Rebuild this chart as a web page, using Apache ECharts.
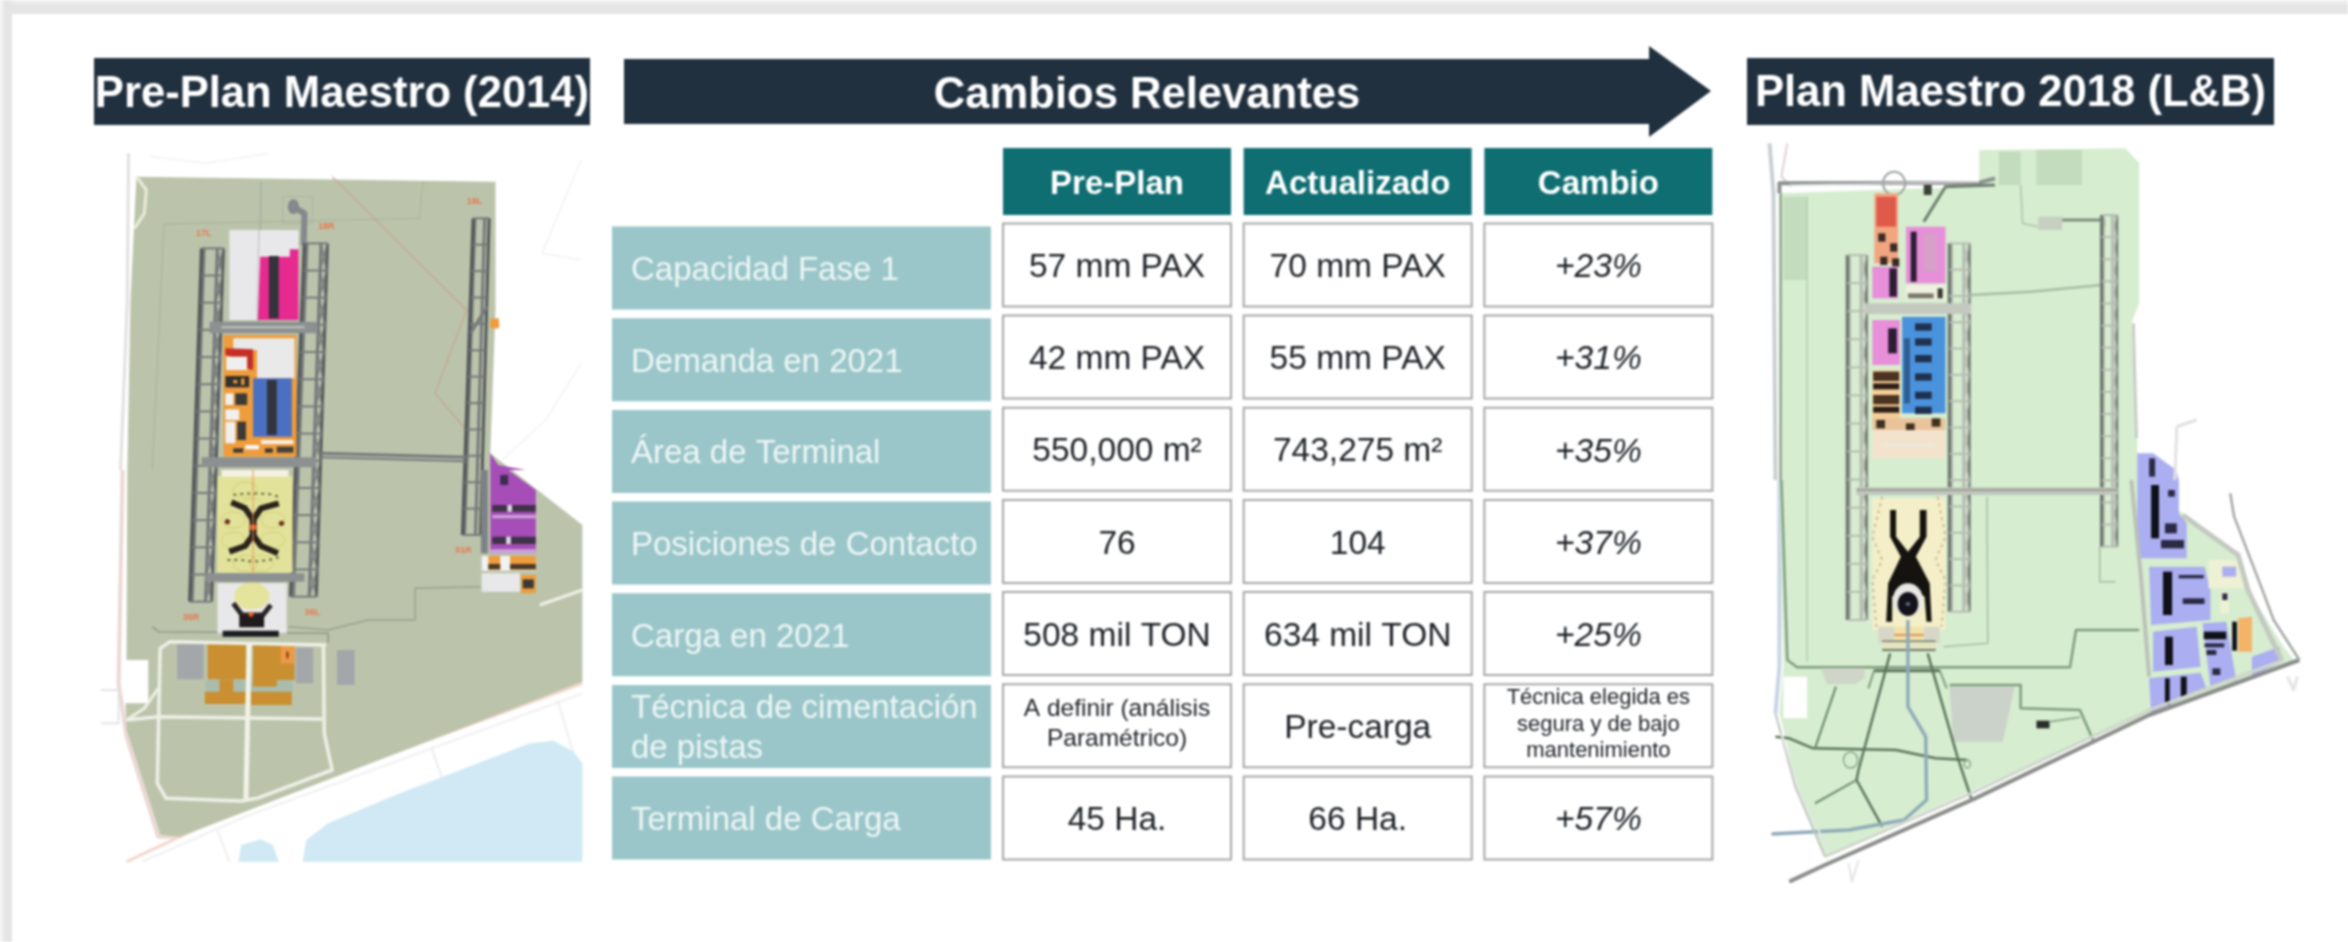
<!DOCTYPE html>
<html><head><meta charset="utf-8">
<style>html,body{margin:0;padding:0;background:#fff}#c{width:2348px;height:942px;filter:blur(0.85px)}</style>
<script src="https://cdn.jsdelivr.net/npm/echarts@6/dist/echarts.min.js"></script>
</head><body><div id="c"></div>
<script>
// ---- table content ----
const columnHeaders = ['Pre-Plan', 'Actualizado', 'Cambio'];
const rowLabels = ['Capacidad Fase 1', 'Demanda en 2021', 'Área de Terminal', 'Posiciones de Contacto', 'Carga en 2021', 'Técnica de cimentación\nde pistas', 'Terminal de Carga'];
const prePlan = ['57 mm PAX', '42 mm PAX', '550,000 m²', '76', '508 mil TON', 'A definir (análisis\nParamétrico)', '45 Ha.'];
const actualizado = ['70 mm PAX', '55 mm PAX', '743,275 m²', '104', '634 mil TON', 'Pre-carga', '66 Ha.'];
const cambio = ['+23%', '+31%', '+35%', '+37%', '+25%', 'Técnica elegida es\nsegura y de bajo\nmantenimiento', '+57%'];
const panelTitles = ['Pre-Plan Maestro (2014)', 'Cambios Relevantes', 'Plan Maestro 2018 (L&B)'];
const runwayTags = ['17L', '18R', '19L', '35R', '36L', '01R'];

const FONT = '"Liberation Sans", Arial, sans-serif';
const NAVY = '#20303e';
const valueRows = [prePlan, actualizado, cambio];
const rowIdx = rowLabels.map((_, i) => i);
const colIdx = columnHeaders.map((_, i) => i);

// ---- base-map artwork helpers (coordinates are picture positions of the two site plans) ----
const Z = {a:[0,0],b:[0,470],c:[1730,30],d:[1730,480]};
const P = (k,pts)=>pts.map(p=>[Z[k][0]+p[0]/2.529, Z[k][1]+p[1]/3]);
const g = [];
const poly=(k,pts,fill,z)=>g.push({type:'polygon',silent:true,shape:{points:P(k,pts)},style:{fill}});
const box=(k,x0,y0,x1,y1,fill)=>poly(k,[[x0,y0],[x1,y0],[x1,y1],[x0,y1]],fill);
const line=(k,pts,stroke,w,dash)=>g.push({type:'polyline',silent:true,shape:{points:P(k,pts)},style:{stroke,lineWidth:w,fill:null,lineDash:dash||null,lineJoin:'round'}});
const oval=(k,cx,cy,rx,ry,fill,stroke,w)=>{const c=P(k,[[cx,cy]])[0];g.push({type:'ellipse',silent:true,shape:{cx:c[0],cy:c[1],rx:rx/2.529,ry:ry/3},style:{fill,stroke:stroke||null,lineWidth:w||0}});};
function ladder(k,kb,a0,a1,ya,b0,b1,yb,n,col,edge,zig){
  const A=P(k,[[a0,ya],[a1,ya]]),B=P(kb,[[b0,yb],[b1,yb]]);
  const at=(t,s)=>{const xt=A[0][0]+(A[1][0]-A[0][0])*t,xb=B[0][0]+(B[1][0]-B[0][0])*t;return [xt+(xb-xt)*s,A[0][1]+(B[0][1]-A[0][1])*s];};
  const L=(p,st,w)=>g.push({type:'polyline',silent:true,shape:{points:p},style:{stroke:st,lineWidth:w,fill:null}});
  L([at(.12,0),at(.12,1)],col,2.5);L([at(.72,0),at(.72,1)],col,3);L([at(0,0),at(0,1)],edge,3.5);L([at(1,0),at(1,1)],edge,3);
  for(let i=0;i<=n;i++){const s=i/n;L([at(0,s),at(1,s)],col,2);
    if(zig&&i<n){L([at(.72,s),at(1,s+1/n)],col,1.5);L([at(1,s),at(.72,s+1/n)],col,1.5);}}
}

// page frame
g.push({type:'rect',silent:true,shape:{x:0,y:0,width:2348,height:14},style:{fill:'#e5e5e5'}});
g.push({type:'rect',silent:true,shape:{x:0,y:0,width:2348,height:4},style:{fill:'#eeeeee'}});
g.push({type:'rect',silent:true,shape:{x:0,y:0,width:12,height:942},style:{fill:'#e5e5e5'}});
g.push({type:'rect',silent:true,shape:{x:0,y:0,width:4,height:942},style:{fill:'#f0f0f0'}});

// ===== LEFT PLAN =====
line('a',[[325,460],[322,900],[305,1410]],'#e3dfe0',3);
line('b',[[310,0],[300,640],[320,800],[400,1100],[455,1100]],'#ecd8d4',4);
line('a',[[380,470],[520,490],[680,460]],'#f3f3f3',1.5);
line('a',[[1470,480],[1370,760],[1470,780]],'#f3f3f3',1.5);
line('a',[[1470,1090],[1380,1260],[1270,1380]],'#f3f3f3',1.5);
line('b',[[320,1175],[600,1020],[1473,640]],'#f3d6cc',3);
line('b',[[360,1175],[620,1040],[1473,670]],'#efefef',2);
line('b',[[1410,690],[1450,850]],'#efefef',2);line('b',[[1090,830],[1120,930]],'#ececec',2);line('b',[[550,1080],[580,1175]],'#efefef',2);
line('b',[[255,660],[300,660],[300,760],[255,760]],'#e4e4e4',2);
// sea
poly('b',[[765,1175],[775,1110],[830,1060],[1000,975],[1340,820],[1400,812],[1450,845],[1473,880],[1473,1175]],'#d0e9f4');
poly('b',[[603,1175],[610,1125],[660,1108],[690,1125],[705,1175]],'#d0e9f4');
// land
const LAND='#bbc4ab';
g.push({type:'polygon',silent:true,shape:{points:P('a',[[345,530],[1253,545],[1253,930],[1240,1360]]).concat(P('b',[[1473,165],[1473,635],[455,1100],[405,1095],[320,780],[317,700],[375,700],[375,570],[320,570],[322,0]]),P('a',[[330,900]]))},style:{fill:LAND}});
line('a',[[345,530],[370,570],[365,640],[340,685]],'#ecebd6',3);
// faint boundaries
line('a',[[415,672],[1060,655],[1070,545]],'#a8b29a',1);line('a',[[415,672],[385,1410]],'#a8b29a',1);
line('a',[[660,545],[655,1000]],'#aab3a0',2);
line('a',[[840,530],[1180,930],[1100,1180],[1180,1290]],'#c2a58a',1.2);
line('a',[[715,590],[790,590],[790,670],[715,670],[715,590]],'#aab3a0',1);
line('b',[[385,470],[400,485],[830,490],[830,520]],'#8f9786',1.5);line('b',[[730,470],[830,480],[930,450],[1050,450],[1050,355],[1215,350]],'#98a08b',1.5);
// ladders & taxiways
const GR='#76797b',DK='#55595a';
line('a',[[740,620],[770,640],[768,735]],'#85888c',6);oval('a',742,620,14,22,'#85888c');
ladder('a','b',510,565,745,480,535,395,13,GR,DK,true);
ladder('a','b',770,828,730,735,800,380,13,GR,DK,true);
ladder('a','b',1197,1237,655,1170,1215,195,12,GR,DK,false);
line('a',[[1190,1000],[1232,920]],GR,3);
box('a',530,965,800,1000,'#8c9090');line('a',[[560,982],[770,982]],'#c4c8c0',2);
box('a',510,1372,800,1402,'#8c9090');
line('a',[[810,1360],[1180,1372]],GR,3);line('a',[[810,1372],[1180,1384]],GR,2);
box('b',520,310,770,335,'#8c9090');
line('b',[[1225,0],[1225,250]],'#7d8284',7);
// top block
box('a',580,690,755,960,'#e8e8ea');
line('a',[[655,690],[650,960]],'#c8c8cc',1.5);
poly('a',[[658,770],[733,770],[733,748],[755,748],[755,960],[652,960]],'#e62a90');
box('a',680,768,705,955,'#34323a');
// second block
box('a',565,1005,750,1370,'#ee9c3c');
box('a',590,1015,745,1050,'#e9e9ea');box('a',650,1050,745,1135,'#e9e9ea');
poly('a',[[570,1045],[640,1048],[640,1110],[605,1100],[600,1075],[570,1065]],'#c52d27');
box('a',572,1070,625,1110,'#efefef');
box('a',640,1135,738,1310,'#4b70c2');box('a',675,1140,700,1305,'#32343e');
box('a',570,1128,630,1162,'#32302c');box('a',590,1140,600,1150,'#ee9c3c');box('a',610,1135,618,1155,'#ee9c3c');
box('a',570,1180,590,1215,'#f0f0f0');box('a',595,1180,625,1215,'#3b3a36');box('a',570,1228,605,1260,'#f0f0f0');
box('a',570,1265,595,1330,'#f0f0f0');box('a',600,1265,622,1320,'#3b3a36');
box('a',660,1320,742,1332,'#f6f0e4');box('a',620,1335,655,1348,'#f6f6f6');box('a',700,1340,742,1358,'#44403a');
box('a',590,1345,615,1358,'#3b3a36');box('a',670,1345,690,1358,'#3b3a36');
// third block (yellow)
box('b',550,18,740,308,'#e3e29a');
box('b',560,0,730,20,'#f4f2e2');
[[620,60],[640,110],[590,150],[690,150],[590,210],[690,210],[620,280],[660,280]].forEach(c=>oval('b',c[0],c[1],30,24,null,'#cfd074',1));
line('b',[[590,75],[610,72],[640,70],[680,72],[705,80]],'#5d6a3a',2,[3,4]);
line('b',[[575,270],[610,270],[640,275],[680,270],[705,262]],'#5d6a3a',2,[3,4]);
line('b',[[585,97],[620,115],[640,150],[660,115],[705,100]],'#2a231c',6);
line('b',[[640,150],[640,195]],'#2a231c',7);
line('b',[[580,245],[620,228],[640,195],[660,228],[703,250]],'#2a231c',6);
oval('b',640,172,10,9,'#e85f2c');oval('b',575,155,7,8,'#6b3420');oval('b',712,160,7,8,'#6b3420');
line('b',[[640,0],[640,310]],'#e89055',1);
// apron and terminal
box('b',550,340,725,490,'#e8e8ea');
oval('b',637,378,45,40,'#e5e49c');
line('b',[[590,400],[612,435],[665,435],[685,405]],'#2b2623',5);
box('b',605,435,668,472,'#201c1e');oval('b',635,433,7,7,'#e85f2c');
box('b',563,482,705,500,'#1d1d20');
// cargo
box('b',448,522,515,628,'#a3a7aa');box('b',748,533,792,640,'#a3a7aa');box('b',852,540,897,645,'#a3a7aa');
box('b',525,522,622,628,'#c98f31');box('b',640,525,745,630,'#c98f31');box('b',710,525,745,580,'#ed9a45');oval('b',727,555,3,12,'#7a3e1c');
box('b',520,630,740,665,'#a9bcae');
box('b',555,628,590,668,'#c98f31');box('b',640,628,700,650,'#c98f31');
box('b',518,665,622,702,'#c98f31');box('b',635,665,738,705,'#c98f31');
// roads
const RD='#eef0e6';
line('b',[[825,525],[430,515],[405,535],[398,940],[420,985],[610,993],[650,985],[840,900],[820,790],[818,530]],RD,3.5);
line('b',[[630,522],[622,990]],'#f3f3e8',5);
line('b',[[320,750],[400,740],[815,747]],RD,3.5);
line('b',[[320,750],[365,715],[400,655]],RD,3);
line('b',[[1365,405],[1473,360]],RD,3);
// east cargo (purple)
poly('a',[[1240,1360],[1240,1410],[1330,1410],[1260,1395]],'#a64db8');
poly('b',[[1240,0],[1285,0],[1355,60],[1355,250],[1240,250]],'#a64db8');
box('b',1265,15,1285,45,'#3d2c52');
box('b',1245,105,1355,125,'#3f3248');box('b',1283,105,1295,125,'#dfd8e4');
box('b',1245,135,1355,145,'#caa6d6');
box('b',1245,200,1355,222,'#3f3248');box('b',1280,200,1292,222,'#dfd8e4');
box('b',1240,238,1355,250,'#caa6d6');
box('b',1218,258,1355,302,'#f2f2f2');box('b',1235,258,1265,300,'#ee9c3c');box('b',1290,258,1355,300,'#ee9c3c');
box('b',1235,282,1265,298,'#4b3a28');box('b',1290,282,1355,298,'#4b3a28');
box('b',1218,310,1315,365,'#e8e8ea');box('b',1318,315,1355,370,'#ee9c3c');box('b',1322,328,1350,355,'#3b3a36');
box('a',1240,955,1262,985,'#ee9c3c');
// runway tags
[['a',515,700,0],['a',825,680,1],['a',1200,605,2],['b',483,443,3],['b',790,428,4],['b',1172,243,5]].forEach(t=>{const p=P(t[0],[[t[1],t[2]]])[0];
 g.push({type:'text',silent:true,style:{text:runwayTags[t[3]],x:p[0],y:p[1],align:'center',verticalAlign:'middle',fill:'#e8764e',fontSize:9,fontFamily:FONT,fontWeight:'bold'}});});

// ===== RIGHT PLAN =====
const LG='#d6edd0';
line('c',[[100,340],[110,490],[115,1350]],'#c8ced0',4);
line('c',[[145,340],[130,440],[155,470]],'#e0d0d0',2);
line('d',[[125,0],[125,560],[115,700]],'#c6d4e4',4);
poly('c',[[125,490],[365,480],[630,470],[630,360],[1000,355],[1035,400],[1035,820],[1015,880],[1030,1230],[1030,1350],[125,1350]],LG);
poly('d',[[125,0],[1030,0],[1060,700],[240,1125],[170,920],[125,700],[135,560]],LG);
poly('d',[[1135,90],[1290,230],[1310,330],[1400,500],[1430,545],[1060,700],[1025,230]],LG);
poly('d',[[1030,-2],[1135,-2],[1135,100],[1030,100]],LG);
// pale features
box('c',680,365,735,465,'#c3dcbd');box('c',775,360,890,465,'#c3dcbd');box('c',135,500,195,750,'#c3dcbd');
box('c',780,560,840,600,'#c7cfc0');
line('c',[[735,465],[740,580],[780,590]],'#aec0a8',1.5);line('c',[[840,570],[945,570],[945,590]],'#7e8a7c',3);
line('c',[[610,795],[760,785],[940,765]],'#a8bca4',2.5);
// north road
line('c',[[125,490],[125,460],[630,458],[670,445]],'#8b9090',4);
line('c',[[150,465],[630,455]],'#d8dad8',1.5);
line('c',[[490,575],[545,470],[670,465]],'#6d7f6c',3);
oval('c',415,460,28,35,null,'#a0a4a4',2);box('c',490,465,510,495,'#3b4038');
// west fence
line('c',[[128,490],[128,1350]],'#8aa38a',2.5);line('d',[[130,0],[145,540],[170,562],[860,562],[875,450],[1035,450]],'#7f9b7f',2.5);
line('c',[[195,500],[195,1350]],'#b6cdb0',1.5);line('d',[[195,0],[195,545]],'#b6cdb0',1.5);
// ladders
const RG='#b7bcb3',RK='#6f7a70';
ladder('c','d',297,345,675,297,345,420,13,RG,RK,true);
ladder('c','d',555,605,640,555,605,395,14,RG,RK,true);
ladder('c','d',940,978,555,940,978,200,15,RG,RK,true);
box('c',340,820,610,852,'#c4c9bf');
box('d',320,22,980,45,'#c0c6bb');line('d',[[320,30],[980,30]],'#9aa197',2);
line('d',[[650,50],[652,490],[540,500]],'#a4bca0',1.5);line('d',[[935,200],[935,305],[975,305]],'#a4bca0',1.5);
// terminal blocks
box('c',365,490,425,700,'#f2a680');box('c',370,500,420,590,'#e05a4c');
[[375,610],[405,640],[380,680],[410,685]].forEach(c=>box('c',c[0],c[1],c[0]+18,c[1]+25,'#3a2a24'));
box('c',445,590,545,760,'#e78fd8');box('c',457,605,472,755,'#2c1c34');box('c',490,610,522,725,'#d6a0c8');
box('c',360,710,425,805,'#e78fd8');box('c',403,715,422,800,'#2c1c34');
box('c',445,765,545,810,'#f1f1e2');box('c',450,790,515,805,'#7a7a6a');box('c',525,775,538,805,'#3a3a30');
box('c',360,870,430,1005,'#e78fd8');box('c',400,895,422,970,'#2c1c34');
box('c',435,860,545,1150,'#4b92dc');
[880,925,975,1030,1085,1130].forEach(y=>box('c',468,y,510,y+22,'#1f3150'));
box('c',440,925,455,1120,'#2f5d90');
box('c',360,1020,430,1170,'#f5cd98');
[1025,1060,1095,1130].forEach((y,i)=>box('c',362,y,428,y+(i%2?18:28),i%2?'#2b1f16':'#4a3320'));
box('c',360,1165,545,1200,'#e9c49a');
[[370,1170],[510,1165],[445,1180]].forEach(c=>box('c',c[0],c[1],c[0]+22,c[1]+25,'#40301f'));
box('c',360,1200,545,1285,'#f3e3cc');box('c',385,1240,515,1250,'#ece8d8');
// central terminal
box('d',360,55,545,450,'#f4efc8');
line('d',[[385,50],[360,170],[385,240],[360,300],[370,440]],'#c9b894',2,[3,4]);
line('d',[[525,50],[545,170],[520,240],[545,300],[535,440]],'#c9b894',2,[3,4]);
poly('d',[[405,90],[420,90],[420,170],[450,215],[480,170],[480,90],[497,90],[497,170],[470,230],[505,310],[510,425],[497,425],[492,350],[450,315],[410,350],[410,425],[395,425],[400,310],[432,230],[405,170]],'#15130f');
oval('d',450,360,38,50,'#e8e8e4');
oval('d',450,372,26,36,'#15131a');oval('d',450,372,6,6,'#5a6488');
box('d',415,440,490,505,'#f1e3a8');box('d',375,440,415,490,'#d7d7c8');box('d',490,440,530,490,'#d7d7c8');
line('d',[[415,465],[490,465]],'#e09060',2);
box('d',385,482,520,512,'#e6e4c0');line('d',[[385,510],[520,510]],'#6a7868',2);line('d',[[385,484],[520,484]],'#6a7868',1.5);
// south field
box('d',135,590,195,715,'#ffffff');
poly('d',[[230,565],[340,565],[340,595],[318,612],[245,612]],'#cfd5c8');
poly('d',[[555,620],[720,620],[690,785],[565,785]],'#cbd2ca');
line('d',[[555,615],[735,615],[735,685],[885,690],[920,785]],'#7f9b7f',2.5);
line('d',[[405,520],[325,870],[320,900],[385,1040]],'#5b755c',2.5);
line('d',[[500,520],[575,830],[610,955]],'#5b755c',2.5);
line('d',[[115,770],[150,775],[210,805],[420,810],[520,835],[600,840]],'#5b755c',2.5);
line('d',[[268,620],[215,805]],'#668567',2);line('d',[[320,900],[215,970]],'#668567',2);
line('d',[[365,570],[350,625]],'#7f9b7f',2);line('d',[[530,570],[548,625]],'#7f9b7f',2);line('d',[[365,572],[530,572]],'#5b755c',3);
oval('d',305,840,18,24,null,'#8aa48a',1.5);oval('d',600,852,8,12,null,'#8aa48a',1.5);
line('d',[[450,420],[450,680],[495,770],[497,960],[440,1020],[300,1050],[105,1062]],'#8fabb8',3.5);
box('d',775,722,808,745,'#2a2e2a');line('d',[[808,725],[885,712]],'#7f9a7f',1.5);
// east cargo
const PB='#abaef0';
poly('c',[[1030,1270],[1070,1270],[1128,1320],[1135,1350],[1030,1350]],PB);
poly('d',[[1030,0],[1135,0],[1135,100],[1155,130],[1155,235],[1030,235]],PB);
poly('d',[[1060,260],[1200,260],[1215,330],[1215,420],[1065,435]],PB);
poly('d',[[1070,455],[1180,440],[1190,560],[1070,575]],PB);
poly('d',[[1195,430],[1255,425],[1280,600],[1215,620]],PB);
poly('d',[[1060,595],[1190,578],[1205,625],[1065,700]],PB);
poly('d',[[1320,530],[1390,500],[1395,545],[1320,590]],PB);
poly('d',[[1210,240],[1285,240],[1300,325],[1210,325]],'#eef1d4');box('d',1245,260,1280,290,PB);box('d',1240,335,1262,400,'#eef1d4');
poly('d',[[1285,415],[1320,410],[1320,515],[1285,515]],'#f3b468');
[[1065,15,1085,175],[1095,275,1118,405],[1100,470,1120,555],[1100,595,1112,675],[1140,590,1155,650],[1198,455,1255,478],[1270,425,1282,512]].forEach(b=>box('d',b[0],b[1],b[2],b[3],'#101018'));
[[1135,285,1198,295],[1145,355,1200,372],[1090,180,1148,205],[1200,490,1250,502],[1205,510,1230,525],[1220,565,1240,585],[1108,30,1125,50],[1100,130,1130,160],[1245,340,1258,360]].forEach(b=>box('d',b[0],b[1],b[2],b[3],'#2a2a44'));
box('c',1060,1285,1075,1340,'#2a2a44');
// roads
line('d',[[150,1205],[240,1155],[620,955],[1060,705],[1440,540]],'#8b8d8b',4);
line('d',[[240,1130],[620,935],[1060,690],[1400,540]],'#cfd5cb',3);
line('d',[[1265,40],[1275,110],[1340,310],[1375,420],[1440,540]],'#a4a8a4',2.5);
line('d',[[1145,105],[1285,225],[1310,330],[1350,430],[1395,540]],'#c4c9c1',5);
line('d',[[115,700],[165,920],[240,1130]],'#bcc6ba',2);line('d',[[130,760],[180,950],[250,1110]],'#e3e6e2',2);
line('d',[[1015,0],[1040,300],[1060,590]],'#bcc1b8',4);
line('c',[[1020,880],[1028,1225]],'#c8cdc4',3);
line('c',[[1130,1190],[1180,1170]],'#e0e0e0',3);line('c',[[1130,1190],[1125,1350]],'#e2e2e2',3);
line('d',[[300,1150],[308,1205],[325,1140]],'#e4e4e4',2);line('d',[[1410,590],[1425,630],[1435,590]],'#e4e4e4',3);

// ===== TITLE BARS =====
const bar=(x,y,w,h,t,ty)=>{g.push({type:'rect',silent:true,shape:{x,y,width:w,height:h},style:{fill:NAVY}});
  g.push({type:'text',silent:true,style:{text:t,x:x+w/2,y:ty,align:'center',verticalAlign:'middle',fill:'#fff',fontFamily:FONT,fontWeight:'bold',fontSize:43.6}});};
bar(94,58,496,67,panelTitles[0],95);
bar(1747,58,527,67,panelTitles[2],94);
g.push({type:'polygon',silent:true,shape:{points:[[624,59],[1649,59],[1649,46],[1711,91],[1649,137],[1649,124],[624,124]]},style:{fill:NAVY}});
g.push({type:'text',silent:true,style:{text:panelTitles[1],x:1147,y:96,align:'center',verticalAlign:'middle',fill:'#fff',fontFamily:FONT,fontWeight:'bold',fontSize:43.6}});

// ===== TABLE (custom series on category axes) =====
const labelData = rowIdx.map(r => [0, r, rowLabels[r]]);
const headerData = colIdx.map(c => [c, 0, columnHeaders[c]]);
const valueData = colIdx.flatMap(c => rowIdx.map(r => [c, r, valueRows[c][r]]));

function labelCell(params, api) {
  const c = api.coord([0, api.value(1)]), s = api.size([1, 1]);
  const t = labelData[params.dataIndex][2];
  return {type:'group',children:[
    {type:'rect',shape:{x:c[0]-s[0]/2,y:c[1]-41.5,width:s[0],height:83},style:{fill:'#9ac6c9'}},
    {type:'text',style:{text:t,x:c[0]-s[0]/2+19,y:c[1]+3,align:'left',verticalAlign:'middle',fill:'#eef6f6',fontFamily:FONT,fontSize:33,lineHeight:40}}
  ]};
}
function headerCell(params, api) {
  const c = api.coord([api.value(0), 0]);
  const t = headerData[params.dataIndex][2];
  return {type:'group',children:[
    {type:'rect',shape:{x:c[0]-114,y:c[1]-33.5,width:228,height:67},style:{fill:'#0f6e72'}},
    {type:'text',style:{text:t,x:c[0],y:c[1]+3,align:'center',verticalAlign:'middle',fill:'#fff',fontFamily:FONT,fontWeight:'bold',fontSize:33}}
  ]};
}
function valueCell(params, api) {
  const col = api.value(0), c = api.coord([col, api.value(1)]);
  const t = valueData[params.dataIndex][2];
  const lines = t.split('\n').length;
  const fs = lines === 3 ? 22 : lines === 2 ? 24.5 : 33.5;
  const lh = lines === 3 ? 26.5 : 30;
  return {type:'group',children:[
    {type:'rect',shape:{x:c[0]-114,y:c[1]-41.5,width:228,height:83},style:{fill:'#fff',stroke:'#a6a6a6',lineWidth:2}},
    {type:'text',style:{text:t,x:c[0],y:c[1]+(lines>1?-1:3),align:'center',verticalAlign:'middle',fill:'#1d2126',fontFamily:FONT,
      fontSize:fs,lineHeight:lh,fontStyle:(col===2&&lines===1)?'italic':'normal'}}
  ]};
}
const hiddenCat = (gridIndex, data, inverse) => ({type:'category',gridIndex,data,show:false,inverse:!!inverse,boundaryGap:true});

const chart = echarts.init(document.getElementById('c'), null, {width:2348,height:942});
chart.setOption({
  animation:false,
  backgroundColor:'#ffffff',
  graphic:{elements:g},
  grid:[
    {left:612,width:379,top:222.2,height:641.7},
    {left:996.7,width:722,top:218.8,height:645.2},
    {left:996.7,width:722,top:148,height:67}
  ],
  xAxis:[hiddenCat(0,['Indicador']),hiddenCat(1,columnHeaders),hiddenCat(2,columnHeaders)],
  yAxis:[hiddenCat(0,rowLabels,true),hiddenCat(1,rowLabels,true),hiddenCat(2,['Encabezado'],true)],
  series:[
    {type:'custom',name:'Indicador',xAxisIndex:0,yAxisIndex:0,data:labelData,renderItem:labelCell,silent:true,encode:{x:0,y:1}},
    {type:'custom',name:'Valores',xAxisIndex:1,yAxisIndex:1,data:valueData,renderItem:valueCell,silent:true,encode:{x:0,y:1}},
    {type:'custom',name:'Encabezado',xAxisIndex:2,yAxisIndex:2,data:headerData,renderItem:headerCell,silent:true,encode:{x:0,y:1}}
  ]
});
</script></body></html>
